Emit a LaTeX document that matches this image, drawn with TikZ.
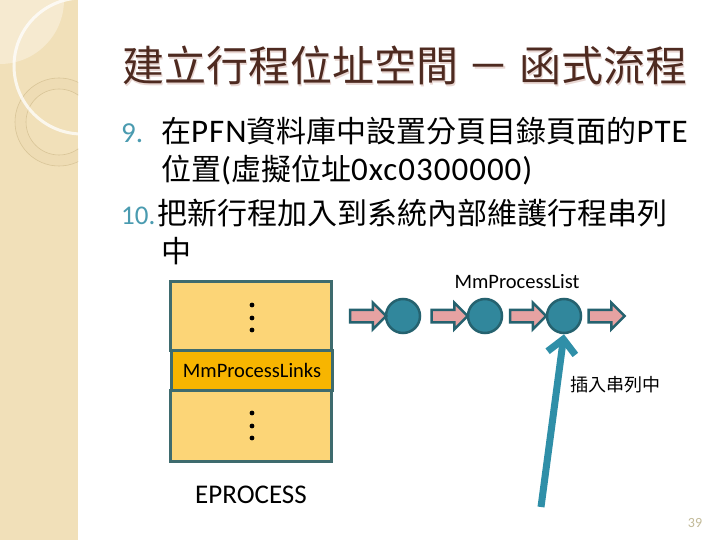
\documentclass[tikz,border=0pt]{standalone}
\usepackage{fontspec}
\setmainfont{Carlito}
\newfontfamily\zh{Noto Sans CJK TC}
\newfontfamily\latspaced{Carlito}[LetterSpace=3]
\usetikzlibrary{arrows.meta,shapes.arrows}

\definecolor{strip}{HTML}{F1E0B9}
\definecolor{stripLight}{HTML}{F6EAD0}
\definecolor{ringfill}{HTML}{EEDCB4}
\definecolor{ringline}{HTML}{D9C598}
\definecolor{titlebrown}{HTML}{4E2A20}
\definecolor{titleshade}{HTML}{E8D6D2}
\definecolor{numteal}{HTML}{4A9BB0}
\definecolor{boxline}{HTML}{3E6B6E}
\definecolor{cellfill}{HTML}{FCD577}
\definecolor{linkfill}{HTML}{F7B500}
\definecolor{nodeteal}{HTML}{31879C}
\definecolor{nodeline}{HTML}{25626F}
\definecolor{arrowfill}{HTML}{E6A2A2}
\definecolor{insertteal}{HTML}{2F8FA8}
\definecolor{pagenum}{HTML}{C2BA98}

\newcommand{\eng}[1]{{\latspaced\fontsize{33bp}{36bp}\selectfont#1}}

\tikzset{
  cell/.style={draw=boxline,line width=3bp,fill=cellfill,minimum width=161bp,inner sep=0pt},
  linkcell/.style={cell,fill=linkfill,font=\fontsize{20.5bp}{24bp}\selectfont},
  listnode/.style={circle,draw=nodeline,line width=2.5bp,fill=nodeteal,minimum size=34bp,inner sep=0pt},
  nextarrow/.style={single arrow,draw=nodeline,line width=2.5bp,fill=arrowfill,inner sep=0pt,
    text height=10bp,text depth=0pt,minimum height=36bp,single arrow head extend=7bp},
  bodyline/.style={anchor=base west,inner sep=0pt,font=\zh\fontsize{30bp}{36bp}\selectfont},
  itemnum/.style={anchor=base west,inner sep=0pt,text=numteal,font=\fontsize{29bp}{36bp}\selectfont}
}

\begin{document}
\begin{tikzpicture}[x=1bp,y=-1bp,>=Latex]
\useasboundingbox (0,0) rectangle (720,540);
\fill[white] (0,0) rectangle (720,540);

% side strip with rings
\fill[strip] (0,0) rectangle (78,540);
\begin{scope}
  \clip (0,0) rectangle (78,540);
  \fill[stripLight] (0,0) circle (64);
  \fill[ringfill,even odd rule] (59,122) circle (44) (59,122) circle (33);
  \draw[ringline,line width=.6bp] (59,122) circle (44) (59,122) circle (33);
  \draw[white,opacity=.75,line width=3bp] (82,66) circle (68);
\end{scope}

% title
\node[anchor=base west,inner sep=0pt,text=titleshade,font=\zh\fontsize{42bp}{50bp}\selectfont]
  (titleshadow) at (123.5,83.5) {建立行程位址空間 － 函式流程};
\node[anchor=base west,inner sep=0pt,text=titlebrown,font=\zh\fontsize{42bp}{50bp}\selectfont]
  (title) at (122,82) {建立行程位址空間 － 函式流程};

% list items
\node[itemnum] (num9) at (121,143) {9.};
\node[bodyline] (line1) at (161,143) {在\eng{PFN}資料庫中設置分頁目錄頁面的\eng{PTE}};
\node[bodyline] (line2) at (161,181) {位置\eng{(}虛擬位址\eng{0xc0300000)}};
\node[itemnum,font=\fontsize{27bp}{36bp}\selectfont] (num10) at (121,225) {10.};
\node[bodyline] (line3) at (157,225) {把新行程加入到系統內部維護行程串列};
\node[bodyline] (line4) at (161,263) {中};

% EPROCESS block
\node[cell,minimum height=69bp] (upper) at (251,316) {};
\node[cell,minimum height=71bp] (lower) at (251,425.5) {};
\node[linkcell,minimum height=40bp] (links) at (252,370) {MmProcessLinks};
\foreach \yy in {305,318,330,413,426,438}
  \fill (252,\yy) circle (2.4);
\node[font=\fontsize{27bp}{30bp}\selectfont] (eproc) at (251,495) {EPROCESS};

% process list
\foreach \n/\xx in {1/403,2/485,3/564}
  \node[listnode] (c\n) at (\xx,316) {};
\foreach \n/\xx in {1/365,2/446.5,3/525,4/603.5}
  \node[nextarrow] (a\n) at (\xx,316) {};
\node[font=\fontsize{20.5bp}{24bp}\selectfont] (listlabel) at (517,282) {MmProcessList};

% insertion
\coordinate (src) at (541,507);
\draw[insertteal,line width=7bp,-{Straight Barb[length=14bp,width=28bp]}] (src) -- (c3.south);
\node[font=\zh\fontsize{18bp}{22bp}\selectfont] (insertlabel) at (615,385) {插入串列中};

% page number
\node[text=pagenum,font=\fontsize{14bp}{16bp}\selectfont] (page) at (695,523) {39};
\end{tikzpicture}
\end{document}
